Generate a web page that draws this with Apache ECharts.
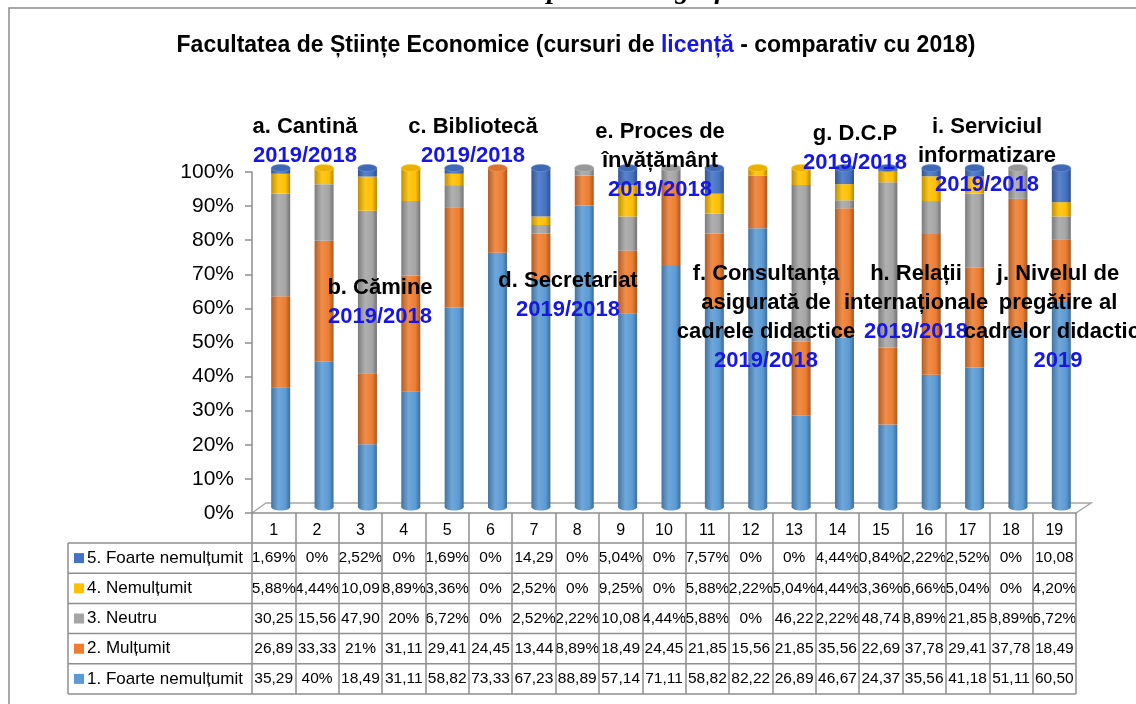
<!DOCTYPE html>
<html>
<head>
<meta charset="utf-8">
<script src="https://cdn.jsdelivr.net/npm/echarts@6/dist/echarts.min.js"></script>
<style>
  html, body { margin: 0; padding: 0; background: #fff; }
  #chart { width: 1136px; height: 704px; }
</style>
</head>
<body>
<div id="chart"></div>
<script>
// categories (columns of the table)
const categories = ['1','2','3','4','5','6','7','8','9','10','11','12','13','14','15','16','17','18','19'];

const seriesNames = ['1. Foarte nemulțumit', '2. Mulțumit', '3. Neutru', '4. Nemulțumit', '5. Foarte nemulțumit'];

const foarteMultumit   = [35.29, 40, 18.49, 31.11, 58.82, 73.33, 67.23, 88.89, 57.14, 71.11, 58.82, 82.22, 26.89, 46.67, 24.37, 35.56, 41.18, 51.11, 60.50];
const multumit         = [26.89, 33.33, 21, 31.11, 29.41, 24.45, 13.44, 8.89, 18.49, 24.45, 21.85, 15.56, 21.85, 35.56, 22.69, 37.78, 29.41, 37.78, 18.49];
const neutru           = [30.25, 15.56, 47.90, 20, 6.72, 0, 2.52, 2.22, 10.08, 4.44, 5.88, 0, 46.22, 2.22, 48.74, 8.89, 21.85, 8.89, 6.72];
const nemultumit       = [5.88, 4.44, 10.09, 8.89, 3.36, 0, 2.52, 0, 9.25, 0, 5.88, 2.22, 5.04, 4.44, 3.36, 6.66, 5.04, 0, 4.20];
const foarteNemultumit = [1.69, 0, 2.52, 0, 1.69, 0, 14.29, 0, 5.04, 0, 7.57, 0, 0, 4.44, 0.84, 2.22, 2.52, 0, 10.08];

const allSeries = [foarteMultumit, multumit, neutru, nemultumit, foarteNemultumit];
const colors = ['#5B9BD5', '#ED7D31', '#A5A5A5', '#FFC000', '#4472C4'];

// group labels written over the bars
const groupLabels = [
  { lines: ['a. Cantină'], year: '2019/2018' },
  { lines: ['b. Cămine'], year: '2019/2018' },
  { lines: ['c. Bibliotecă'], year: '2019/2018' },
  { lines: ['d. Secretariat'], year: '2019/2018' },
  { lines: ['e. Proces de', 'învățământ'], year: '2019/2018' },
  { lines: ['f. Consultanța', 'asigurată de', 'cadrele didactice'], year: '2019/2018' },
  { lines: ['g. D.C.P'], year: '2019/2018' },
  { lines: ['h. Relații', 'internaționale'], year: '2019/2018' },
  { lines: ['i. Serviciul', 'informatizare'], year: '2019/2018' },
  { lines: ['j. Nivelul de', 'pregătire al', 'cadrelor didactice'], year: '2019' }
];
const labelPos = [[305, 127], [380, 288], [473, 127], [568, 281], [660, 132], [766, 274], [855, 134], [916, 274], [987, 127], [1058, 274]];

const BLUE = '#1616e6';
const FONT = '"Liberation Sans", Arial, sans-serif';

// 100% stacked: normalise every column
const totals = categories.map((c, i) => allSeries.reduce((s, arr) => s + arr[i], 0));
const pct = allSeries.map(arr => arr.map((v, i) => v / totals[i] * 100));

function shade(hex, f) {
  const n = parseInt(hex.slice(1), 16);
  let r = n >> 16, g = (n >> 8) & 255, b = n & 255;
  if (f < 0) { r *= 1 + f; g *= 1 + f; b *= 1 + f; }
  else { r += (255 - r) * f; g += (255 - g) * f; b += (255 - b) * f; }
  return 'rgb(' + Math.round(r) + ',' + Math.round(g) + ',' + Math.round(b) + ')';
}
function cyl(hex) {
  return new echarts.graphic.LinearGradient(0, 0, 1, 0, [
    { offset: 0, color: shade(hex, -0.25) },
    { offset: 0.38, color: shade(hex, 0.12) },
    { offset: 0.75, color: hex },
    { offset: 1, color: shade(hex, -0.3) }
  ]);
}
function fmt(v) {
  if (Number.isInteger(v)) return v + '%';
  const s = v.toFixed(2).replace('.', ',');
  return v < 10 ? s + '%' : s;
}

const chart = echarts.init(document.getElementById('chart'));

const X0 = 252, X1 = 1076, colW = (X1 - X0) / categories.length;
const rowTop = 543, rowH = 30.2;

const graphics = [];
// outer frame
graphics.push({ type: 'rect', z: -10, shape: { x: 9, y: 8, width: 1300, height: 900 },
  style: { fill: 'none', stroke: '#8c8c8c', lineWidth: 1.5 } });
// heading cut by the top of the picture
graphics.push({ type: 'text', x: 637, y: -9, style: { text: 'Reprezentare grafică', align: 'center', verticalAlign: 'middle',
  font: 'italic bold 28px "Liberation Serif", serif', fill: '#000' } });
// title
graphics.push({ type: 'text', x: 576, y: 46, style: {
  text: '{a|Facultatea de Științe Economice (cursuri de }{b|licență}{a| - comparativ cu 2018)}',
  align: 'center', verticalAlign: 'middle',
  rich: { a: { font: 'bold 23px ' + FONT, fill: '#000' }, b: { font: 'bold 23px ' + FONT, fill: BLUE } } } });
// floor of the 3D plot
graphics.push({ type: 'polyline', shape: { points: [[X0, 513], [X0 + 14, 503], [X1 + 15, 503], [X1, 513]] },
  style: { stroke: '#a6a6a6', lineWidth: 1.5, fill: 'none' } });
// data table: horizontal rules
for (let r = 0; r <= 5; r++) {
  const y = rowTop + r * rowH;
  graphics.push({ type: 'line', shape: { x1: 68, y1: y, x2: X1, y2: y }, style: { stroke: '#8e8e8e', lineWidth: 1.5 } });
}
graphics.push({ type: 'line', shape: { x1: 68, y1: rowTop, x2: 68, y2: rowTop + 5 * rowH }, style: { stroke: '#8e8e8e', lineWidth: 1.5 } });
// table rows: series 5 at the top, series 1 at the bottom
for (let r = 0; r < 5; r++) {
  const si = 4 - r;
  const cy = rowTop + r * rowH + rowH / 2;
  graphics.push({ type: 'rect', shape: { x: 74, y: cy - 5, width: 10, height: 10 }, style: { fill: colors[si] } });
  graphics.push({ type: 'text', x: 87, y: cy, style: { text: seriesNames[si], font: '17px ' + FONT, fill: '#000', verticalAlign: 'middle' } });
  allSeries[si].forEach((v, i) => {
    graphics.push({ type: 'text', x: X0 + colW * (i + 0.5), y: cy, style: { text: fmt(v), font: '15.5px ' + FONT, fill: '#000', align: 'center', verticalAlign: 'middle' } });
  });
}
// labels over the bars
groupLabels.forEach((g, k) => {
  const txt = g.lines.map(l => '{k|' + l + '}').join('\n') + '\n{y|' + g.year + '}';
  graphics.push({ type: 'text', x: labelPos[k][0], y: labelPos[k][1] - 14.5, z: 100, style: {
    text: txt, align: 'center', verticalAlign: 'top',
    rich: { k: { font: 'bold 22px ' + FONT, fill: '#000', lineHeight: 29, align: 'center' },
            y: { font: 'bold 22px ' + FONT, fill: BLUE, lineHeight: 29, align: 'center' } } } });
});

const barSeries = pct.map((arr, si) => ({
  name: seriesNames[si],
  type: 'bar',
  stack: 'total',
  xAxisIndex: 1,
  yAxisIndex: 1,
  barWidth: 19,
  data: arr,
  itemStyle: { color: cyl(colors[si]) }
}));

// top colour of each column (last non-zero layer)
const topColor = categories.map((c, i) => {
  let t = 0;
  allSeries.forEach((arr, si) => { if (arr[i] > 0) t = si; });
  return colors[t];
});

const caps = {
  type: 'custom',
  xAxisIndex: 1,
  yAxisIndex: 1,
  z: 5,
  data: categories.map((c, i) => [i, 100]),
  renderItem: function (params, api) {
    const i = api.value(0);
    const top = api.coord([i, 100]);
    const bot = api.coord([i, 0]);
    return { type: 'group', children: [
      { type: 'ellipse', shape: { cx: bot[0], cy: bot[1], rx: 9.5, ry: 3.5 }, style: { fill: cyl(colors[0]) }, z2: -1 },
      { type: 'ellipse', shape: { cx: top[0], cy: top[1], rx: 9.5, ry: 3.5 }, style: { fill: shade(topColor[i], -0.08), stroke: shade(topColor[i], 0.25), lineWidth: 0.6 } }
    ] };
  }
};

chart.setOption({
  animation: false,
  grid: [
    { left: X0, top: 172, width: X1 - X0, height: 341 },
    { left: X0 + 7, top: 168, width: X1 - X0, height: 339 }
  ],
  xAxis: [
    { type: 'category', gridIndex: 0, data: categories, boundaryGap: true,
      axisLine: { show: true, lineStyle: { color: '#8e8e8e', width: 1.5 } },
      axisTick: { show: true, length: 181, lineStyle: { color: '#8e8e8e', width: 1.5 } },
      axisLabel: { fontSize: 16, fontFamily: FONT, color: '#000', margin: 10 } },
    { type: 'category', gridIndex: 1, data: categories, show: false }
  ],
  yAxis: [
    { type: 'value', gridIndex: 0, min: 0, max: 100, interval: 10,
      axisLine: { show: true, lineStyle: { color: '#8e8e8e', width: 1.5 } },
      axisTick: { show: true, length: 7, lineStyle: { color: '#8e8e8e', width: 1.5 } },
      splitLine: { show: false },
      axisLabel: { formatter: '{value}%', fontSize: 21, fontFamily: FONT, color: '#000', margin: 18 } },
    { type: 'value', gridIndex: 1, min: 0, max: 100, show: false, splitLine: { show: false } }
  ],
  series: barSeries.concat([caps]),
  graphic: graphics
});
</script>
</body>
</html>
